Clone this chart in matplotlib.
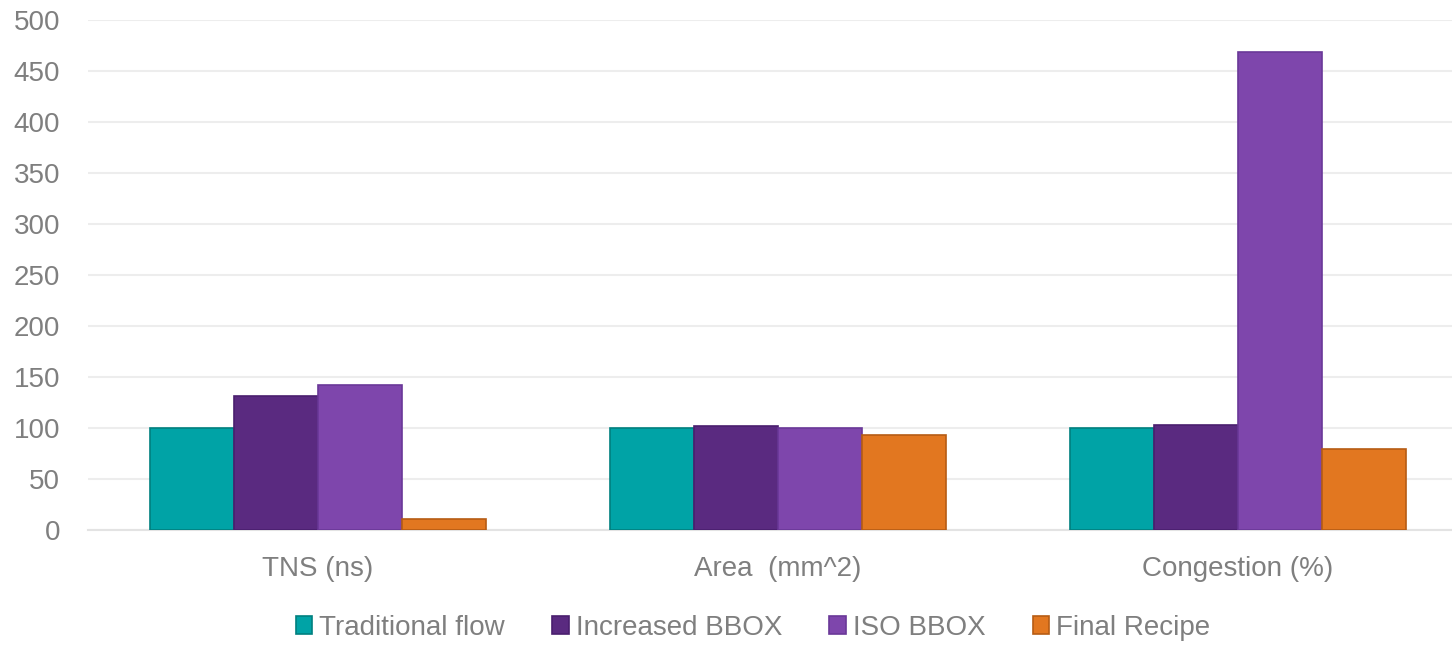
import matplotlib
matplotlib.use("Agg")
import matplotlib.pyplot as plt
import numpy as np

categories = ["TNS (ns)", "Area  (mm^2)", "Congestion (%)"]
series_names = ["Traditional flow", "Increased BBOX", "ISO BBOX", "Final Recipe"]
traditional_flow = [100, 100, 100]
increased_bbox = [131, 102, 103]
iso_bbox = [142, 100, 469]
final_recipe = [11, 93, 79]
yticks = [0, 50, 100, 150, 200, 250, 300, 350, 400, 450, 500]

fills = ["#00A3A6", "#5A2A80", "#7E46AC", "#E27720"]
edges = ["#00807F", "#4A1F6E", "#6A3898", "#B65C14"]

plt.rcParams["font.family"] = ["Liberation Sans", "DejaVu Sans"]
text_color = "#7F7F7F"

fig = plt.figure(figsize=(14.52, 6.45), dpi=100)
ax = fig.add_axes([88 / 1452, 115 / 645, 1380 / 1452, 510 / 645])

x = np.arange(len(categories))
w = 0.1826
all_series = [traditional_flow, increased_bbox, iso_bbox, final_recipe]
for i, vals in enumerate(all_series):
    ax.bar(x + (i - 1.5) * w, vals, width=w, color=fills[i], edgecolor=edges[i],
           linewidth=1.2, label=series_names[i], zorder=3)

ax.set_xlim(-0.5, 2.5)
ax.set_ylim(0, 500)
ax.set_yticks(yticks)
ax.set_xticks(x)
ax.set_xticklabels(categories)
ax.grid(axis="y", color="#EDEDED", linewidth=1.5, zorder=0)
for s in ["top", "right", "left"]:
    ax.spines[s].set_visible(False)
ax.spines["bottom"].set_color("#E3E3E3")
ax.spines["bottom"].set_linewidth(1.5)
ax.tick_params(axis="both", length=0, labelsize=20, colors=text_color)
ax.tick_params(axis="y", pad=20)
ax.tick_params(axis="x", pad=19)

leg = fig.legend(loc="center", bbox_to_anchor=(753 / 1452, 1 - 628 / 645), ncol=4,
                 frameon=False, fontsize=20, handlelength=0.6, handleheight=0.6,
                 handletextpad=0.25, columnspacing=1.7, labelcolor=text_color)

fig.savefig("out.png", dpi=100)
